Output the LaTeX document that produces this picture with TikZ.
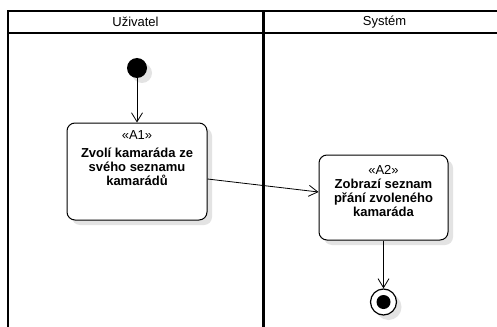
\documentclass[tikz,border=0pt]{standalone}
\usepackage{fontspec}
\setmainfont{Liberation Sans}
\usetikzlibrary{arrows.meta,shadows}
\begin{document}
\begin{tikzpicture}[x=1pt,y=-1pt,
  font=\fontsize{13}{14}\selectfont,
  lane/.style={line width=2pt,black},
  divider/.style={line width=3pt,black},
  shade/.style={drop shadow={shadow xshift=5pt,shadow yshift=-5pt,fill=black!11,opacity=1}},
  action/.style={draw=black,line width=1pt,fill=white,rounded corners=8pt,shade,inner sep=0pt},
  caption/.style={align=center,inner sep=0pt,anchor=north},
  flow/.style={draw=black,line width=0.8pt,-{Straight Barb[length=9pt,width=11pt,line width=0.8pt]}},
  startnode/.style={circle,fill=black,minimum size=20pt,inner sep=0pt,shade},
  endring/.style={circle,draw=black,line width=1.2pt,fill=white,minimum size=26pt,inner sep=0pt,shade},
  enddot/.style={circle,fill=black,minimum size=14pt,inner sep=0pt}]
\useasboundingbox (0,0) rectangle (497,326);
\clip (0,0) rectangle (497,326);
\fill[white] (0,0) rectangle (497,326);

% swimlane frame
\draw[lane] (8,340) -- (8,11) -- (510,11);
\draw[lane] (8,33) -- (510,33);
\draw[divider] (263,11) -- (263,340);
\node[inner sep=0pt] (laneU) at (135.5,22) {Uživatel};
\node[inner sep=0pt] (laneS) at (384.5,22) {Systém};

% actions
\node[action,minimum width=140pt,minimum height=97pt] (a1) at (137,171.5) {};
\node[caption] (t1) at ([yshift=-8pt]a1.north) {«A1»\\[4pt]\textbf{Zvolí kamaráda ze}\\\textbf{svého seznamu}\\\textbf{kamarádů}};

\node[action,minimum width=129pt,minimum height=85pt] (a2) at (383.5,197.5) {};
\node[caption] (t2) at ([yshift=-11pt]a2.north) {«A2»\\[0pt]\textbf{Zobrazí seznam}\\\textbf{přání zvoleného}\\\textbf{kamaráda}};

% initial and final nodes
\node[startnode] (start) at (137,68) {};
\node[endring] (fin) at (383.5,302) {};
\node[enddot] (findot) at (fin.center) {};

% control flow
\draw[flow] (start.south) -- (a1.north);
\draw[flow] ([yshift=-7.5pt]a1.east) -- ([yshift=5.5pt]a2.west);
\draw[flow] (a2.south) -- (fin.north);
\end{tikzpicture}
\end{document}
